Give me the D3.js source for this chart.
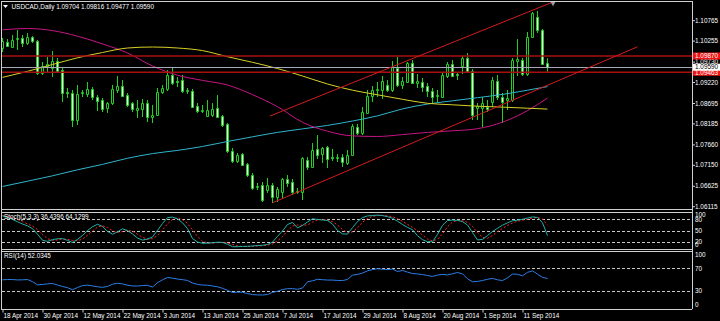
<!DOCTYPE html>
<html>
<head>
<meta charset="utf-8">
<script src="https://cdnjs.cloudflare.com/ajax/libs/d3/7.8.5/d3.min.js"></script>
<style>
  html, body { margin: 0; padding: 0; background: #000; }
  svg { display: block; font-family: "Liberation Sans", Arial, sans-serif; }
  .lbl { fill: #fff; font-size: 6.4px; }
  .axis text { fill: #fff; font-size: 6.4px; font-family: "Liberation Sans", Arial, sans-serif; }
  .axis line { stroke: #d0d0d0; }
  .axis path { display: none; }
</style>
</head>
<body>
<div id="chart"></div>
<script>
(function () {

  // date labels on the bottom, one every 8 bars
  const tickLabels = ["18 Apr 2014", "30 Apr 2014", "12 May 2014", "22 May 2014", "3 Jun 2014",
    "13 Jun 2014", "25 Jun 2014", "7 Jul 2014", "17 Jul 2014", "29 Jul 2014", "8 Aug 2014",
    "20 Aug 2014", "1 Sep 2014", "11 Sep 2014"]
  const tickBars = [0, 8, 16, 24, 32, 40, 48, 56, 64, 72, 80, 88, 96, 104]

  const priceTicks = [1.10765, 1.10255, 1.09730, 1.09220, 1.08695, 1.08185, 1.07660, 1.07150, 1.06625, 1.06115]
  const stochTicks = [100, 80, 50, 20, 0]
  const stochLevels = [80, 50, 20]
  const rsiTicks = [100, 70, 30, 0]
  const rsiLevels = [70, 30]

  // USDCAD daily candles, 18 Apr 2014 .. 17 Sep 2014
  const opens = [1.1007, 1.1022, 1.10095, 1.10295, 1.1032, 1.10195, 1.10345, 1.10245, 1.09445, 1.0962,
    1.0957, 1.09745, 1.0952, 1.0897, 1.08945, 1.0827, 1.08945, 1.0892, 1.09045, 1.08845,
    1.0877, 1.0857, 1.08695, 1.0902, 1.0912, 1.08895, 1.08695, 1.0852, 1.08545, 1.08695,
    1.08345, 1.08395, 1.0897, 1.09045, 1.09395, 1.09245, 1.0927, 1.08995, 1.08995, 1.0862,
    1.08495, 1.0837, 1.08395, 1.0857, 1.0837, 1.0817, 1.07495, 1.07245, 1.0742, 1.0717,
    1.06895, 1.06595, 1.06645, 1.0652, 1.06645, 1.06345, 1.0647, 1.06795, 1.0672, 1.0647,
    1.0647, 1.0727, 1.07095, 1.07545, 1.0742, 1.07595, 1.07345, 1.0732, 1.07345, 1.07195,
    1.07395, 1.08095, 1.07945, 1.08445, 1.0887, 1.0902, 1.0902, 1.09145, 1.0902, 1.0957,
    1.09145, 1.0922, 1.09695, 1.09195, 1.0922, 1.0912, 1.08995, 1.0887, 1.08845, 1.0937,
    1.0967, 1.0942, 1.0962, 1.0982, 1.09495, 1.0857, 1.0857, 1.08595, 1.0872, 1.09245,
    1.08845, 1.0877, 1.0877, 1.09745, 1.0977, 1.0942, 1.10345, 1.10845, 1.1052, 1.09704]
  const highs = [1.1032, 1.10295, 1.10395, 1.1052, 1.10395, 1.10445, 1.1037, 1.1027, 1.0972, 1.09845,
    1.09995, 1.0982, 1.0957, 1.0907, 1.0902, 1.09145, 1.0902, 1.0922, 1.09095, 1.08895,
    1.0882, 1.0872, 1.09145, 1.0937, 1.0927, 1.08945, 1.0872, 1.0877, 1.08795, 1.0877,
    1.08645, 1.0907, 1.09145, 1.0952, 1.0957, 1.09345, 1.09395, 1.0907, 1.09045, 1.08695,
    1.08645, 1.0877, 1.08695, 1.08895, 1.08395, 1.08195, 1.0757, 1.07445, 1.07445, 1.07195,
    1.06945, 1.06695, 1.0672, 1.0682, 1.06695, 1.06595, 1.0682, 1.06895, 1.06795, 1.0657,
    1.07345, 1.07345, 1.07695, 1.07895, 1.07595, 1.0762, 1.07545, 1.0742, 1.0742, 1.0752,
    1.0817, 1.0817, 1.08595, 1.0902, 1.0912, 1.0922, 1.0937, 1.0927, 1.09745, 1.09845,
    1.09345, 1.0972, 1.0977, 1.0942, 1.0932, 1.09195, 1.0907, 1.0902, 1.09445, 1.0972,
    1.0977, 1.0947, 1.0987, 1.09945, 1.09545, 1.08695, 1.08845, 1.0877, 1.09345, 1.09395,
    1.08945, 1.0902, 1.0982, 1.10295, 1.0982, 1.1047, 1.1097, 1.10995, 1.10545, 1.09816]
  const lows = [1.0997, 1.10095, 1.1007, 1.1002, 1.10095, 1.10145, 1.10195, 1.09395, 1.09395, 1.0947,
    1.09345, 1.09445, 1.0872, 1.0882, 1.08095, 1.08145, 1.08845, 1.08845, 1.0877, 1.08495,
    1.0847, 1.08445, 1.08645, 1.08945, 1.08845, 1.08595, 1.0847, 1.0832, 1.08345, 1.0822,
    1.08195, 1.0837, 1.0892, 1.08995, 1.09145, 1.09095, 1.08945, 1.0892, 1.0857, 1.08445,
    1.08445, 1.08345, 1.08345, 1.0832, 1.08095, 1.07445, 1.07195, 1.07195, 1.0712, 1.06845,
    1.0652, 1.0652, 1.0622, 1.06445, 1.06195, 1.0622, 1.0632, 1.06595, 1.06395, 1.0642,
    1.0627, 1.0702, 1.0707, 1.07295, 1.07195, 1.0707, 1.07245, 1.0722, 1.07095, 1.07145,
    1.0737, 1.07895, 1.07895, 1.0842, 1.0872, 1.08845, 1.08795, 1.0897, 1.0897, 1.09095,
    1.09045, 1.09195, 1.0917, 1.0907, 1.0897, 1.08845, 1.08695, 1.0872, 1.0882, 1.0932,
    1.09345, 1.0927, 1.0942, 1.09445, 1.0827, 1.0827, 1.08095, 1.0847, 1.08595, 1.0877,
    1.08195, 1.0852, 1.0872, 1.0937, 1.0937, 1.0937, 1.1032, 1.10445, 1.09645, 1.09477]
  const closes = [1.10245, 1.1012, 1.1027, 1.10308, 1.10195, 1.10345, 1.10245, 1.09445, 1.0962, 1.0967,
    1.09745, 1.09495, 1.08945, 1.08945, 1.0827, 1.0892, 1.0897, 1.09045, 1.08845, 1.08745,
    1.08545, 1.08695, 1.09045, 1.0912, 1.0887, 1.08645, 1.08545, 1.0857, 1.08695, 1.08345,
    1.08395, 1.0897, 1.0907, 1.09395, 1.09195, 1.0922, 1.08995, 1.0902, 1.08595, 1.08495,
    1.0852, 1.0852, 1.08545, 1.08345, 1.08145, 1.07495, 1.07245, 1.07395, 1.07145, 1.06895,
    1.0657, 1.0662, 1.0627, 1.06645, 1.06345, 1.06545, 1.06795, 1.06695, 1.0647, 1.06495,
    1.0732, 1.07095, 1.0752, 1.07395, 1.0757, 1.07295, 1.0732, 1.07333, 1.0722, 1.07395,
    1.0812, 1.07945, 1.0847, 1.0887, 1.0902, 1.09033, 1.09245, 1.0902, 1.09595, 1.09145,
    1.09245, 1.09695, 1.09195, 1.09245, 1.09095, 1.08995, 1.08845, 1.08883, 1.09395, 1.0967,
    1.0937, 1.09383, 1.0982, 1.09495, 1.08395, 1.0862, 1.08695, 1.08545, 1.0927, 1.08845,
    1.0872, 1.08808, 1.0977, 1.09783, 1.0942, 1.10345, 1.10945, 1.1052, 1.0967, 1.09590]

  // moving averages, read every 5 bars
  const maBars = [0, 5, 10, 15, 20, 25, 30, 35, 40, 45, 50, 55, 60, 65, 70, 75, 80, 85, 90, 95, 100, 105, 109]
  const maYellow = [1.09335, 1.09487, 1.09657, 1.09825, 1.09957, 1.1007, 1.10095, 1.1007, 1.10005, 1.09852,
    1.09712, 1.09557, 1.0937, 1.0917, 1.09015, 1.0890, 1.08787, 1.08687, 1.0865, 1.08615, 1.08592, 1.08565, 1.08543]
  const maMagenta = [1.10525, 1.10558, 1.10505, 1.10365, 1.10172, 1.09945, 1.0962, 1.0939, 1.0926, 1.09145,
    1.08903, 1.08603, 1.08213, 1.0799, 1.07873, 1.07858, 1.07905, 1.0796, 1.0800, 1.08053, 1.08215, 1.08505, 1.0882]
  const maCyan = [1.06608, 1.0674, 1.06875, 1.07025, 1.0716, 1.07313, 1.0743, 1.0751, 1.07608, 1.07733,
    1.0785, 1.0796, 1.08048, 1.08135, 1.08245, 1.08373, 1.08548, 1.08668, 1.0875, 1.08828, 1.0891, 1.09015, 1.09105]

  // Stochastic(5,3,3) main and signal, RSI(14)
  const stochMain = [89.5, 85, 80, 73.5, 67.5, 62.7, 55, 40.2, 24, 21, 25.7, 28, 28.4, 23.6, 18.2, 26.3, 36.5, 50, 60.3, 66.8,
    61, 47.7, 40.2, 46.6, 54.7, 50, 40.8, 29.8, 24.4, 27.3, 32.7, 50.7, 68.9, 84.7, 86, 81.5, 70.8, 55.2, 28.4, 19.3,
    15.8, 16.1, 17.2, 18.8, 18.2, 13.4, 6.7, 6.7, 7.5, 7.8, 8.6, 9.7, 10.5, 12.6, 19, 34.3, 48.8, 66.2, 71.6, 57.1,
    63.8, 72.9, 81.5, 79.9, 78.3, 77, 67.3, 50.1, 41, 40.5, 57.9, 74, 84.7, 89.3, 90.3, 91.4, 90.1, 87.1, 83.1, 75.1,
    66.2, 58.4, 52.3, 36.2, 25.5, 20.1, 20.1, 39.7, 64.1, 76.7, 78, 77.2, 74, 64.9, 44.8, 24.7, 26.3, 36.5, 47.5, 56,
    64.3, 70.8, 76.1, 77.7, 80.2, 83.4, 86.6, 85, 71, 36.4396]
  const stochSignal = [90, 88, 84.8, 79.5, 73.7, 67.9, 61.7, 52.6, 39.7, 28.4, 23.6, 24.9, 27.4, 26.7, 23.4, 22.7, 27, 37.6, 48.9, 59,
    62.7, 58.5, 49.6, 44.8, 47.2, 50.4, 48.5, 40.2, 31.7, 27.2, 28.1, 36.9, 50.8, 68.1, 79.9, 84.1, 79.4, 69.2, 51.5, 34.3,
    21.2, 17.1, 16.4, 17.4, 18.1, 16.8, 12.8, 8.9, 7, 7.3, 8, 8.7, 9.6, 10.9, 14, 22, 34, 49.8, 62.2, 65,
    64.2, 64.6, 72.7, 78.1, 79.9, 78.4, 74.2, 64.8, 52.8, 43.9, 46.5, 57.5, 72.2, 82.7, 88.1, 90.3, 90.6, 89.5, 86.8, 81.8,
    74.8, 66.6, 59, 49, 38, 27.3, 21.9, 26.6, 41.3, 60.2, 72.9, 77.3, 76.4, 72, 61.2, 44.8, 31.9, 29.2, 36.8, 46.7,
    55.9, 63.7, 70.4, 74.9, 78, 80.4, 83.4, 85, 80.9, 64.1299]
  const rsi = [49.7, 50.2, 50.2, 49.5, 49.7, 50.2, 46.5, 40.7, 41.6, 42.5, 43.3, 40.5, 37.9, 35.9, 32.2, 36.1, 39.5, 40.3, 38.9, 37.4,
    36.5, 38, 41.9, 43.7, 42.5, 40.2, 38.9, 38.8, 39.6, 40, 37, 44.6, 49.7, 53.9, 52.5, 51.1, 50, 48.6, 44, 41.6,
    40.5, 40.2, 38.9, 37.4, 34.7, 31.2, 27.3, 28, 27.7, 25.5, 23.6, 23.1, 22.9, 23.8, 27.5, 29.4, 32.6, 34, 34.2, 33,
    35.2, 46.3, 47.9, 50.6, 49.9, 49.3, 49.3, 48.6, 48.3, 50.4, 58, 59.2, 61.7, 65.5, 67.7, 69.2, 68.4, 67.7, 68.7, 64.3,
    66.3, 63.3, 60.8, 60.1, 59, 57.3, 55.7, 58.1, 59.2, 58.5, 60.3, 62.6, 60.3, 51.5, 46.3, 46.9, 48.5, 50.7, 52.2, 49.7,
    48.5, 53.2, 59.9, 59.4, 56.7, 62.9, 65.5, 59.6, 54, 52.0345]

  // drawn objects
  const hLevels = [1.09870, 1.09463]
  const bid = 1.09590
  const trendUpper = [[53.5, 1.0837], [110.1, 1.1122]]
  const trendLower = [[54, 1.0620], [127, 1.1010]]

  const width = 720
  const height = 321
  const axisX = 692
  const panel = { mainTop: 1, mainBottom: 209, stochTop: 212, stochBottom: 249, rsiTop: 251, rsiBottom: 309 }

  const green = "#22d022"
  const fmt5 = d3.format(".5f")
  const fmt4 = d3.format(".4f")

  const svg = d3.select("#chart").append("svg")
      .attr("width", width)
      .attr("height", height)

  svg.append("rect").attr("width", width).attr("height", height).attr("fill", "#000")

  const xScale = d3.scaleLinear().domain([0, 109]).range([2.5, 547.5])
  const yPrice = d3.scaleLinear().domain([1.06115, 1.10765]).range([206.2, 20.2])
  const yStoch = d3.scaleLinear().domain([0, 100]).range([249.2, 211.9])
  const yRsi = d3.scaleLinear().domain([0, 100]).range([308, 251.3])

  const crisp = v => Math.round(v) + 0.5

  // clip for main area
  svg.append("clipPath").attr("id", "mainClip")
    .append("rect").attr("x", 2).attr("y", 2).attr("width", axisX - 2).attr("height", panel.mainBottom - 2)

  const main = svg.append("g").attr("clip-path", "url(#mainClip)")

  // candles
  const bars = opens.map((o, i) => ({ i: i, o: o, h: highs[i], l: lows[i], c: closes[i] }))

  main.selectAll(".wick")
    .data(bars)
    .enter().append("line")
    .attr("x1", d => xScale(d.i))
    .attr("x2", d => xScale(d.i))
    .attr("y1", d => yPrice(d.h))
    .attr("y2", d => yPrice(d.l))
    .attr("stroke", green)
    .attr("stroke-width", 1)

  main.selectAll(".body")
    .data(bars)
    .enter().append("path")
    .attr("d", d => {
      const x0 = xScale(d.i) - 1, x1 = xScale(d.i) + 1
      const y0 = crisp(yPrice(Math.max(d.o, d.c)))
      const y1 = crisp(yPrice(Math.min(d.o, d.c)))
      return `M${x0},${y0}H${x1}V${y1}H${x0}Z`
    })
    .attr("fill", d => d.c >= d.o ? "#000" : "#e8ffe8")
    .attr("stroke", green)
    .attr("stroke-width", 1)

  // moving averages
  const maLine = d3.line()
    .x((d, i) => xScale(maBars[i]))
    .y(d => yPrice(d))
    .curve(d3.curveMonotoneX)

  main.append("path").datum(maCyan).attr("d", maLine)
    .attr("fill", "none").attr("stroke", "#2fb4cc").attr("stroke-width", 1)
  main.append("path").datum(maMagenta).attr("d", maLine)
    .attr("fill", "none").attr("stroke", "#c71585").attr("stroke-width", 1)
  main.append("path").datum(maYellow).attr("d", maLine)
    .attr("fill", "none").attr("stroke", "#d8cf28").attr("stroke-width", 1)

  // horizontal lines
  main.selectAll(".hline")
    .data(hLevels)
    .enter().append("line")
    .attr("x1", 0).attr("x2", axisX)
    .attr("y1", d => yPrice(d)).attr("y2", d => yPrice(d))
    .attr("stroke", "#a81010").attr("stroke-width", 1.6)

  main.append("line")
    .attr("x1", 0).attr("x2", axisX)
    .attr("y1", crisp(yPrice(bid))).attr("y2", crisp(yPrice(bid)))
    .attr("stroke", "#a8a8b8").attr("stroke-width", 1)

  // channel lines
  ;[trendUpper, trendLower].forEach(t => {
    main.append("line")
      .attr("x1", xScale(t[0][0])).attr("y1", yPrice(t[0][1]))
      .attr("x2", xScale(t[1][0])).attr("y2", yPrice(t[1][1]))
      .attr("stroke", "#d41c1c").attr("stroke-width", 1)
  })
  svg.append("path")
    .attr("d", d3.symbol().type(d3.symbolTriangle).size(14))
    .attr("transform", `translate(${xScale(trendUpper[1][0])},${yPrice(trendUpper[1][1]) + 1}) rotate(180)`)
    .attr("fill", "#9a9aa8")

  // frames and separators
  const frame = svg.append("g").attr("stroke", "#d0d0d0").attr("stroke-width", 1)
  frame.append("line").attr("x1", 1).attr("x2", axisX).attr("y1", 1.5).attr("y2", 1.5)
  frame.append("line").attr("x1", 1.5).attr("x2", 1.5).attr("y1", 1).attr("y2", panel.rsiBottom)
  frame.append("line").attr("x1", axisX + 0.5).attr("x2", axisX + 0.5).attr("y1", 1).attr("y2", panel.rsiBottom)
  ;[panel.mainBottom, panel.stochTop, panel.stochBottom, panel.rsiTop, panel.rsiBottom].forEach(y => {
    frame.append("line").attr("x1", 1).attr("x2", axisX).attr("y1", y + 0.5).attr("y2", y + 0.5)
  })

  // price axis
  svg.append("g")
    .attr("class", "axis")
    .attr("transform", `translate(${axisX},0)`)
    .call(d3.axisRight(yPrice).tickValues(priceTicks).tickFormat(fmt5).tickSize(3).tickPadding(0))

  // red object labels and bid label
  const tags = svg.append("g")
  hLevels.forEach(v => {
    tags.append("rect").attr("x", axisX + 1).attr("y", yPrice(v) - 3.5).attr("width", 28).attr("height", 7).attr("fill", "#ee1414")
    tags.append("text").attr("class", "lbl").attr("x", axisX + 3).attr("y", yPrice(v)).attr("dy", "0.35em")
      .text(fmt5(v))
  })
  tags.append("rect").attr("x", axisX + 1).attr("y", yPrice(bid) - 3.5).attr("width", 28).attr("height", 7).attr("fill", "#fff")
  tags.append("text").attr("class", "lbl").attr("x", axisX + 3).attr("y", yPrice(bid)).attr("dy", "0.35em")
    .style("fill", "#000").text(fmt5(bid))

  // header
  svg.append("path").attr("d", "M3,5L8,5L5.5,8Z").attr("fill", "#fff")
  svg.append("text").attr("class", "lbl").attr("x", 11.5).attr("y", 8.8)
    .text(`USDCAD,Daily  ${fmt5(opens[109])} ${fmt5(highs[109])} ${fmt5(lows[109])} ${fmt5(closes[109])}`)

  // stochastic panel
  const dash = "3,2"
  svg.selectAll(".stochLevel")
    .data(stochLevels)
    .enter().append("line")
    .attr("x1", 2).attr("x2", axisX)
    .attr("y1", d => crisp(yStoch(d))).attr("y2", d => crisp(yStoch(d)))
    .attr("stroke", "#c8c8c8").attr("stroke-dasharray", dash)

  const stochLine = d3.line().x((d, i) => xScale(i)).y(d => yStoch(d))
  svg.append("path").datum(stochSignal).attr("d", stochLine)
    .attr("fill", "none").attr("stroke", "#ff2020").attr("stroke-width", 1).attr("stroke-dasharray", "2,2")
  svg.append("path").datum(stochMain).attr("d", stochLine)
    .attr("fill", "none").attr("stroke", "#20b2aa").attr("stroke-width", 1)

  svg.append("text").attr("class", "lbl").attr("x", 4).attr("y", 219)
    .text(`Stoch(5,3,3) ${fmt4(stochMain[109])} ${fmt4(stochSignal[109])}`)

  svg.selectAll(".stochTick")
    .data(stochTicks)
    .enter().append("text")
    .attr("class", "lbl")
    .attr("x", axisX + 3)
    .attr("y", d => Math.min(Math.max(yStoch(d), panel.stochTop + 3), panel.stochBottom - 4))
    .attr("dy", "0.35em")
    .text(d => d)

  // RSI panel
  svg.selectAll(".rsiLevel")
    .data(rsiLevels)
    .enter().append("line")
    .attr("x1", 2).attr("x2", axisX)
    .attr("y1", d => crisp(yRsi(d))).attr("y2", d => crisp(yRsi(d)))
    .attr("stroke", "#c8c8c8").attr("stroke-dasharray", dash)

  const rsiLine = d3.line().x((d, i) => xScale(i)).y(d => yRsi(d))
  svg.append("path").datum(rsi).attr("d", rsiLine)
    .attr("fill", "none").attr("stroke", "#2a7fe8").attr("stroke-width", 1)

  svg.append("text").attr("class", "lbl").attr("x", 4).attr("y", 258)
    .text(`RSI(14) ${fmt4(rsi[109])}`)

  svg.selectAll(".rsiTick")
    .data(rsiTicks)
    .enter().append("text")
    .attr("class", "lbl")
    .attr("x", axisX + 3)
    .attr("y", d => Math.min(Math.max(yRsi(d), panel.rsiTop + 3.5), panel.rsiBottom - 4.5))
    .attr("dy", "0.35em")
    .text(d => d)

  // date axis
  const xAxis = d3.axisBottom(xScale)
    .tickValues(tickBars)
    .tickFormat((d, i) => tickLabels[i])
    .tickSize(3)
    .tickPadding(1)
  const gx = svg.append("g")
    .attr("class", "axis")
    .attr("transform", `translate(0,${panel.rsiBottom + 0.5})`)
    .call(xAxis)
  gx.selectAll("text").attr("text-anchor", "start").attr("x", 0.5)

})();
</script>
</body>
</html>
